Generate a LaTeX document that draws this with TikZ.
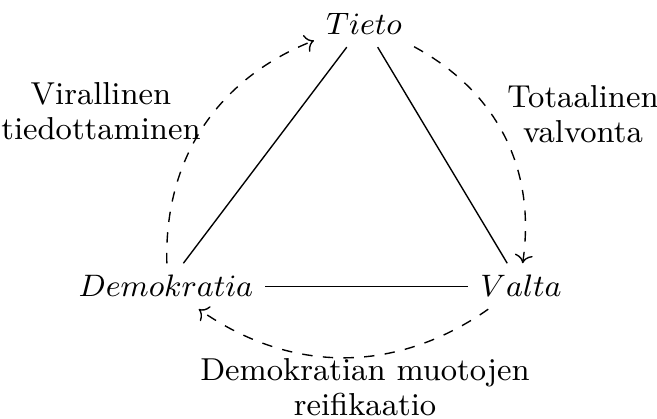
\documentclass[tikz,border=0pt]{standalone}
\usetikzlibrary{arrows.meta}
\begin{document}
\begin{tikzpicture}[x=0.29pt,y=-0.29pt,
  lbl/.style={align=center,inner sep=0pt,font=\fontsize{9.2}{10.2}\selectfont},
  vert/.style={inner sep=3.33pt,font=\fontsize{8.8}{10.5}\selectfont},
  link/.style={draw},
  flow/.style={draw,dashed,->}]
\useasboundingbox (0,0) rectangle (657,419);
\node[vert,anchor=base] (T) at (364,35) {$Tieto$};
\node[vert,anchor=base] (D) at (166,297) {$Demokratia$};
\node[vert,anchor=base] (V) at (521,297) {$Valta$};
\draw[link] (T) -- (D);
\draw[link] (T) -- (V);
\draw[link] (D) -- (V);
\draw[flow] (D) to[bend left=35] (T);
\draw[flow] (T) to[bend left=35] (V);
\draw[flow] (V) to[bend left=35] (D);
\node[lbl] (l1) at (101,111) {Virallinen\\tiedottaminen};
\node[lbl] (l2) at (583,114) {Totaalinen\\valvonta};
\node[lbl] (l3) at (365,387) {Demokratian muotojen\\reifikaatio};
\end{tikzpicture}
\end{document}
